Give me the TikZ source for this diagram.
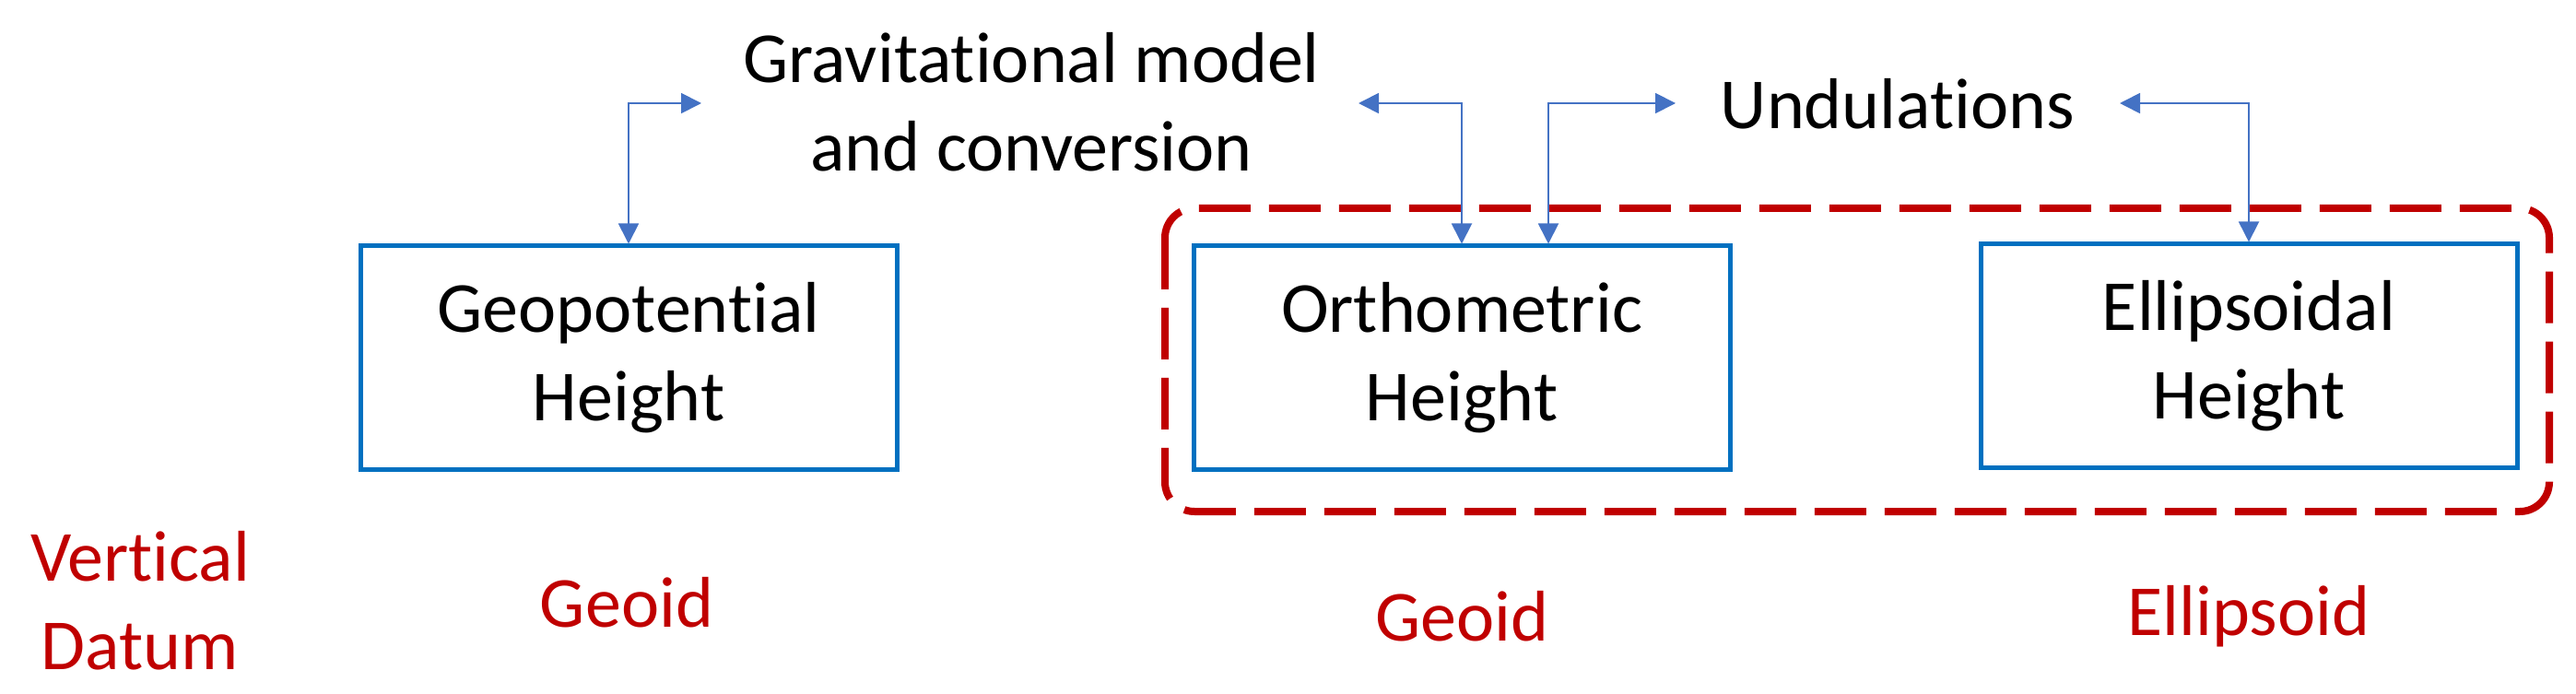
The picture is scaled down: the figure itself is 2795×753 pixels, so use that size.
\documentclass[tikz,border=0pt]{standalone}
\usepackage{fontspec}
\setmainfont{Carlito}[Ligatures=NoCommon]
\usetikzlibrary{arrows.meta}
\definecolor{bx}{HTML}{0070C0}
\definecolor{ar}{HTML}{4472C4}
\definecolor{rd}{HTML}{C00000}
\begin{document}
\begin{tikzpicture}[x=0.5pt,y=-0.5pt,
  font=\fontsize{39}{48}\selectfont,
  box/.style={draw=bx,line width=2.5pt,minimum width=291pt,minimum height=121pt,align=center,inner sep=0pt},
  lbl/.style={text=rd,align=center},
  conn/.style={draw=ar,line width=0.9pt,{Triangle[width=11pt,length=11pt]}-{Triangle[width=11pt,length=11pt]}}]
\useasboundingbox (0,0) rectangle (2795,753);
\draw[rd,line width=4pt,dash pattern=on 28pt off 10pt,rounded corners=16pt] (1264,226) rectangle (2766,555);
\node[box] (geo) at (682,388) {Geopotential\\Height};
\node[box] (ort) at (1586,388) {Orthometric\\Height};
\node[box] (ell) at (2440,386) {Ellipsoidal\\Height};
\node[align=center] (grav) at (1119,111) {Gravitational model\\and conversion};
\node (und) at (2059,113) {Undulations};
\coordinate (g1) at (761,112);
\coordinate (g2) at (1474,112);
\coordinate (u1) at (1818,112);
\coordinate (u2) at (2300,112);
\draw[conn] (g1) -| (geo.north);
\draw[conn] (g2) -| (ort.north);
\draw[conn] (u1) -| ([xshift=47pt]ort.north);
\draw[conn] (u2) -| (ell.north -| 2440,0);
\node[lbl] (vd) at (152,652) {Vertical\\Datum};
\node[lbl] (g1l) at (680,654) {Geoid};
\node[lbl] (g2l) at (1586,669) {Geoid};
\node[lbl] (el) at (2440,669) {Ellipsoid};
\end{tikzpicture}
\end{document}
